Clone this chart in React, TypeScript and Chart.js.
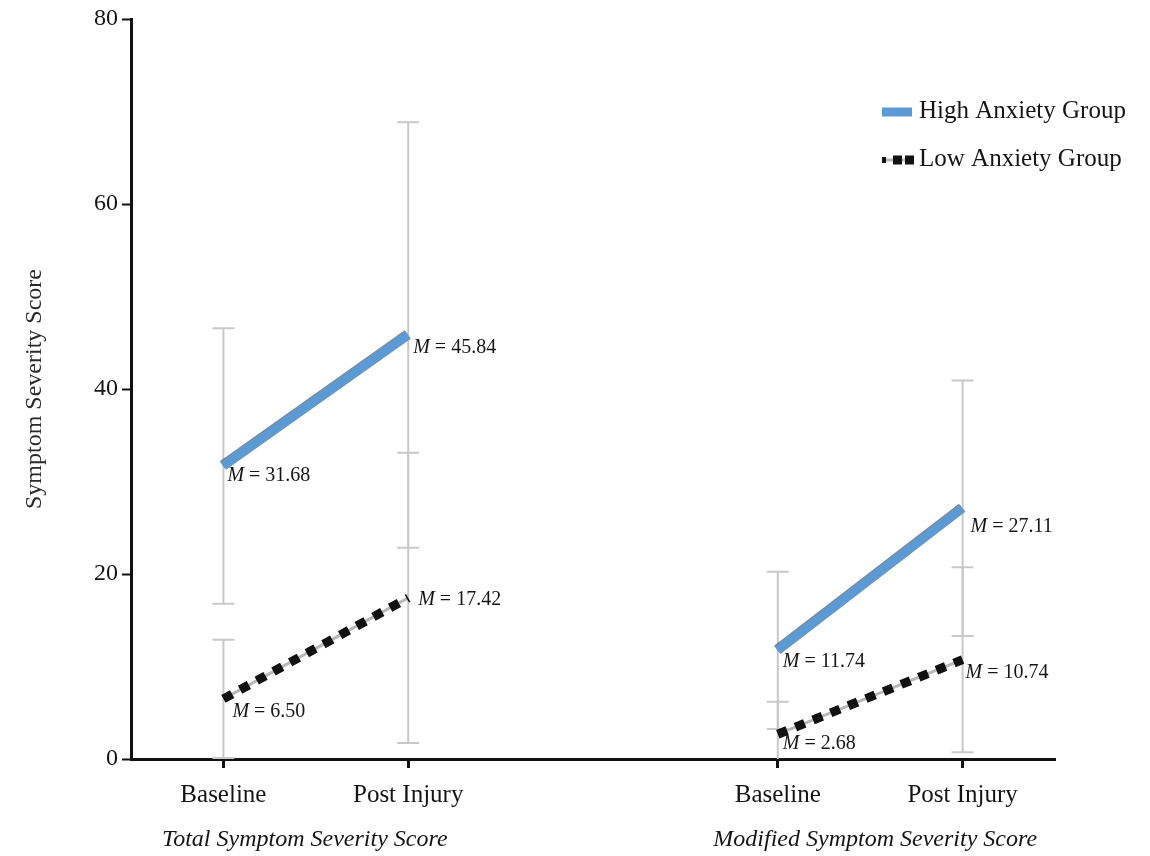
import React, { useEffect, useRef } from "react";
import { Chart, registerables } from "chart.js";

Chart.register(...registerables);

// ---- Data ----
const categories = ["Baseline", "Post Injury", "", "Baseline", "Post Injury"];
const groupLabels = ["Total Symptom Severity Score", "Modified Symptom Severity Score"];
const seriesNames = ["High Anxiety Group", "Low Anxiety Group"];
const highMeans = [31.68, 45.84, null, 11.74, 27.11];
const lowMeans = [6.5, 17.42, null, 2.68, 10.74];
const highSD = [14.9, 23.0, null, 8.5, 13.8];
const lowSD = [6.4, 15.7, null, 3.5, 10.0];
const yTicks = [0, 20, 40, 60, 80];

// ---- Styles ----
const FONT = "'Liberation Serif', 'Times New Roman', serif";
const TEXT = "#151515";
const BLUE = "#5B9BD5";
const highLabelOffsets = [[4, 10], [5, 13], null, [5, 11], [8, 19]];
const lowLabelOffsets = [[9, 13], [10, 2], null, [5, 10], [3, 13]];
const groupDx = [-11, 5];

const overlayPlugin = {
  id: "overlay",
  beforeDatasetsDraw(chart: any) {
    const { ctx, chartArea } = chart;
    const xs = chart.scales.x;
    const ys = chart.scales.y;
    ctx.save();
    ctx.strokeStyle = "#c9c9c9";
    ctx.lineWidth = 2;
    const drawBar = (means: (number | null)[], sds: (number | null)[]) => {
      means.forEach((m, i) => {
        const sd = sds[i];
        if (m == null || sd == null) return;
        const x = xs.getPixelForValue(i);
        const hi = m + sd;
        const lo = m - sd;
        const yT = ys.getPixelForValue(hi);
        const yB = Math.min(ys.getPixelForValue(lo), chartArea.bottom);
        ctx.beginPath();
        ctx.moveTo(x, yT);
        ctx.lineTo(x, yB);
        ctx.moveTo(x - 11, yT);
        ctx.lineTo(x + 11, yT);
        if (lo >= 0) {
          ctx.moveTo(x - 11, yB);
          ctx.lineTo(x + 11, yB);
        }
        ctx.stroke();
      });
    };
    drawBar(highMeans, highSD);
    drawBar(lowMeans, lowSD);
    ctx.restore();
  },
  beforeDatasetDraw(chart: any, args: any) {
    if (args.index === 0) {
      const ctx = chart.ctx;
      ctx.save();
      ctx.shadowColor = "rgba(40,40,40,0.55)";
      ctx.shadowOffsetX = -1;
      ctx.shadowOffsetY = -1;
      ctx.shadowBlur = 0;
    }
  },
  afterDatasetDraw(chart: any, args: any) {
    if (args.index === 0) chart.ctx.restore();
  },
  afterDraw(chart: any) {
    const { ctx, chartArea } = chart;
    const xs = chart.scales.x;
    const ys = chart.scales.y;
    ctx.save();
    // Mean labels
    const drawLabels = (means: (number | null)[], offs: any[]) => {
      means.forEach((m, i) => {
        if (m == null) return;
        const o = offs[i];
        const x = xs.getPixelForValue(i) + o[0];
        const y = ys.getPixelForValue(m) + o[1];
        ctx.textBaseline = "middle";
        ctx.textAlign = "left";
        ctx.fillStyle = TEXT;
        ctx.font = `italic 20px ${FONT}`;
        ctx.fillText("M", x, y);
        const w = ctx.measureText("M").width;
        ctx.font = `20px ${FONT}`;
        ctx.fillText(" = " + m.toFixed(2), x + w, y);
      });
    };
    drawLabels(highMeans, highLabelOffsets);
    drawLabels(lowMeans, lowLabelOffsets);

    // Group labels
    ctx.font = `italic 24px ${FONT}`;
    ctx.fillStyle = TEXT;
    ctx.textAlign = "center";
    ctx.textBaseline = "middle";
    groupLabels.forEach((g, k) => {
      const cx = (xs.getPixelForValue(k * 3) + xs.getPixelForValue(k * 3 + 1)) / 2 + groupDx[k];
      ctx.fillText(g, cx, chartArea.bottom + 81);
    });

    // Legend
    const lx = chartArea.right - 173;
    const ly1 = chartArea.top + 93;
    const ly2 = chartArea.top + 141;
    ctx.strokeStyle = BLUE;
    ctx.lineWidth = 9;
    ctx.beginPath();
    ctx.moveTo(lx, ly1);
    ctx.lineTo(lx + 30, ly1);
    ctx.stroke();
    ctx.strokeStyle = "#b8b8b8";
    ctx.lineWidth = 3;
    ctx.beginPath();
    ctx.moveTo(lx, ly2);
    ctx.lineTo(lx + 30, ly2);
    ctx.stroke();
    ctx.fillStyle = "#111";
    ctx.fillRect(lx, ly2 - 3, 4, 6);
    ctx.fillRect(lx + 11, ly2 - 4.5, 9, 9);
    ctx.fillRect(lx + 23, ly2 - 4.5, 9, 9);
    ctx.fillStyle = TEXT;
    ctx.font = `25px ${FONT}`;
    ctx.textAlign = "left";
    ctx.textBaseline = "middle";
    ctx.fillText(seriesNames[0], lx + 37, ly1 - 1);
    ctx.fillText(seriesNames[1], lx + 37, ly2 - 1);
    ctx.restore();
  },
};

export default function App() {
  const ref = useRef<HTMLCanvasElement | null>(null);
  useEffect(() => {
    if (!ref.current) return;
    const chart = new Chart(ref.current, {
      type: "line",
      data: {
        labels: categories,
        datasets: [
          {
            label: seriesNames[0],
            data: highMeans,
            borderColor: BLUE,
            borderWidth: 9,
            borderCapStyle: "butt",
            pointRadius: 0,
            spanGaps: false,
          },
          {
            label: seriesNames[1],
            data: lowMeans,
            borderColor: "#111",
            borderWidth: 9,
            borderDash: [10, 9],
            borderCapStyle: "butt",
            pointRadius: 0,
            spanGaps: false,
          },
          {
            label: "underlay",
            data: lowMeans,
            borderColor: "#b8b8b8",
            borderWidth: 3,
            pointRadius: 0,
            spanGaps: false,
          },
        ],
      },
      options: {
        responsive: true,
        maintainAspectRatio: false,
        animation: false,
        devicePixelRatio: 1,
        layout: { padding: { top: 19, right: 95, left: 0, bottom: 0 } },
        plugins: { legend: { display: false }, tooltip: { enabled: false } },
        scales: {
          x: {
            type: "category",
            offset: true,
            border: { display: true, color: "#111", width: 3 },
            grid: {
              drawOnChartArea: false,
              drawTicks: true,
              offset: false,
              tickLength: 9,
              tickWidth: 3,
              tickColor: (c: any) => (c.index === 2 ? "rgba(0,0,0,0)" : "#111"),
            },
            ticks: {
              font: { family: FONT, size: 25 },
              color: TEXT,
              padding: 12,
              maxRotation: 0,
              autoSkip: false,
            },
            afterFit: (s: any) => {
              s.height = 97;
            },
          },
          y: {
            min: 0,
            max: 80,
            border: { display: true, color: "#111", width: 3 },
            grid: {
              drawOnChartArea: false,
              drawTicks: true,
              tickLength: 9,
              tickWidth: 2,
              tickColor: "#111",
            },
            afterBuildTicks: (s: any) => {
              s.ticks = yTicks.map((v) => ({ value: v }));
            },
            ticks: {
              font: { family: FONT, size: 24 },
              color: TEXT,
              padding: 4,
            },
            title: {
              display: true,
              text: "Symptom Severity Score",
              font: { family: FONT, size: 24 },
              color: "#2a2a2a",
              padding: { top: 20, bottom: 0 },
            },
            afterFit: (s: any) => {
              s.width = 131;
            },
          },
        },
      },
      plugins: [overlayPlugin],
    });
    return () => chart.destroy();
  }, []);
  return (
    <div style={{ position: "absolute", left: 0, top: 0, width: 1150, height: 856, background: "#fff" }}>
      <canvas ref={ref} />
    </div>
  );
}
